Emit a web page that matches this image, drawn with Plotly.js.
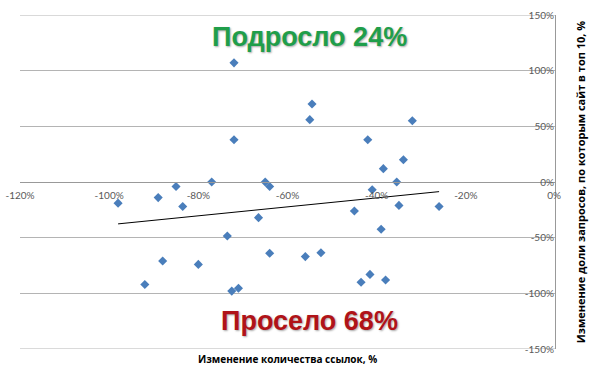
<!DOCTYPE html>
<html><head><meta charset="utf-8">
<script src="https://cdn.plot.ly/plotly-3.0.1.min.js"></script>
<style>html,body{margin:0;padding:0;background:#fff}#c{width:600px;height:369px}</style>
</head><body><div id="c"></div>
<script>
// Change in number of links, %
const linksChange = [-72, -72, -77, -65, -54.5, -55, -32, -42, -34, -38.5, -35.5,
  -64, -85, -89, -98, -83.5, -66.5, -73.5, -64, -88, -80, -92, -72.5, -71,
  -41, -35, -26, -45, -39, -52.5, -56, -41.5, -43.5, -38];
// Change in share of queries in top 10, %
const top10Change = [107, 38, 0, 0, 70, 56, 55, 38, 20, 12, 0,
  -4, -4, -14, -19, -22, -32, -48.5, -64, -71, -74, -92, -98, -95.5,
  -7, -21, -22, -26, -42.5, -63.5, -67, -83, -90, -88];
const xTickVals = [-120, -100, -80, -60, -40, -20, -0.2];
const xTickText = ['-120%', '-100%', '-80%', '-60%', '-40%', '-20%', '0%'];
const yTickVals = [-150, -100, -50, 0, 50, 100, 150];
const yTickText = ['-150%', '-100%', '-50%', '0%', '50%', '100%', '150%'];
const upLabel = 'Подросло 24%';
const downLabel = 'Просело 68%';

// linear trend (least squares) from the data
const n = linksChange.length;
const mx = linksChange.reduce((a, b) => a + b, 0) / n;
const my = top10Change.reduce((a, b) => a + b, 0) / n;
let sxy = 0, sxx = 0;
for (let i = 0; i < n; i++) { sxy += (linksChange[i] - mx) * (top10Change[i] - my); sxx += (linksChange[i] - mx) ** 2; }
const slope = sxy / sxx, icpt = my - slope * mx;
const tx = [Math.min(...linksChange), Math.max(...linksChange)];
const ty = tx.map(v => icpt + slope * v);

const gridColor = '#b4b4b4';
const tickFont = {family: 'Lato, "Open Sans", sans-serif', size: 10, color: '#595959'};
const data = [
  {type: 'scatter', mode: 'lines', x: tx, y: ty, line: {color: '#000', width: 1}, hoverinfo: 'skip', showlegend: false},
  {type: 'scatter', mode: 'markers', x: linksChange, y: top10Change,
   marker: {symbol: 'diamond', size: 7, color: '#4a7ebb'}, showlegend: false}
];
const edgeLines = [yTickVals[0], yTickVals[yTickVals.length - 1]].map(v => ({
  type: 'line', xref: 'paper', yref: 'y', x0: 0, x1: 1, y0: v, y1: v, layer: 'below',
  line: {color: gridColor, width: 1}
}));
const layout = {
  width: 600, height: 369,
  margin: {l: 20, r: 45, t: 15, b: 20},
  paper_bgcolor: '#fff', plot_bgcolor: '#fff',
  xaxis: {range: [-120, 0], tickvals: xTickVals, ticktext: xTickText, showgrid: false, zeroline: false,
    anchor: 'free', position: 0.5, showline: true, linecolor: '#999', linewidth: 1,
    ticks: '', tickfont: tickFont, ticklabeloverflow: 'allow', ticklabelstandoff: 4},
  yaxis: {range: [-150, 150], tickvals: yTickVals, ticktext: yTickText, side: 'right',
    ticklabelposition: 'inside', ticklabeloverflow: 'allow', showgrid: true, gridcolor: gridColor, gridwidth: 1, zeroline: false,
    showline: true, linecolor: '#999', ticks: '', tickfont: tickFont,
    title: {text: 'Изменение доли запросов, по которым сайт в топ 10, %', standoff: 24,
      font: {family: '"Open Sans", sans-serif', size: 11, color: '#000', weight: 'bold'}}},
  shapes: edgeLines,
  annotations: [
    {text: upLabel, xref: 'x', yref: 'y', x: -55, y: 130, showarrow: false,
     font: {family: '"Liberation Sans", Arial, sans-serif', size: 27, color: '#1f9e4a', weight: 'bold', shadow: '1px 1px 2px rgba(0,0,0,0.35)'}},
    {text: downLabel, xref: 'x', yref: 'y', x: -55, y: -125, showarrow: false,
     font: {family: '"Liberation Sans", Arial, sans-serif', size: 27, color: '#b01318', weight: 'bold', shadow: '1px 1px 2px rgba(0,0,0,0.35)'}},
    {text: 'Изменение количества ссылок, %', xref: 'paper', yref: 'paper', x: 0.5, y: -0.004, yanchor: 'top', showarrow: false,
     font: {family: '"Open Sans", sans-serif', size: 10, color: '#000', weight: 'bold'}}
  ]
};
Plotly.newPlot('c', data, layout, {displayModeBar: false, staticPlot: true});
</script></body></html>
